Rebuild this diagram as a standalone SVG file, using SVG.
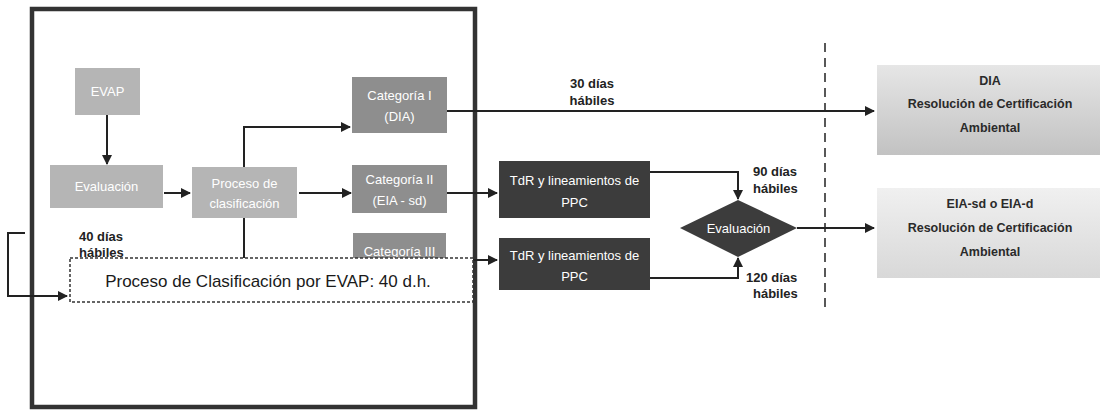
<svg xmlns="http://www.w3.org/2000/svg" width="1102" height="412" viewBox="0 0 1102 412">
<style>
.lt{fill:#b5b5b5}
.md{fill:#8e8e8e}
.dk{fill:#3c3c3c}
.wt{font-family:"Liberation Sans",Arial,sans-serif;font-size:13px;fill:#ffffff;text-anchor:middle}
.bt{font-family:"Liberation Sans",Arial,sans-serif;font-size:12.5px;font-weight:bold;fill:#2a2a2a;text-anchor:middle}
.lb{font-family:"Liberation Sans",Arial,sans-serif;font-size:13px;font-weight:bold;fill:#222222}
.ln{fill:none;stroke:#222222;stroke-width:2}
</style>
<defs>
<marker id="ah" viewBox="0 0 10 10" refX="9" refY="5" markerWidth="5" markerHeight="5" orient="auto" markerUnits="strokeWidth">
<path d="M0,0 L10,5 L0,10 z" fill="#222222"/>
</marker>
<linearGradient id="g1" x1="0" y1="0" x2="0" y2="1">
<stop offset="0" stop-color="#e6e6e6"/>
<stop offset="1" stop-color="#c2c2c2"/>
</linearGradient>
<linearGradient id="g2" x1="0" y1="0" x2="0" y2="1">
<stop offset="0" stop-color="#f0f0f0"/>
<stop offset="1" stop-color="#d8d8d8"/>
</linearGradient>
</defs>
<rect width="1102" height="412" fill="#ffffff"/>
<rect id="frame" x="32" y="9" width="443" height="398" fill="none" stroke="#333333" stroke-width="4.5"/>
<line id="divider" x1="825" y1="43" x2="825" y2="307" stroke="#222222" stroke-width="1.5" stroke-dasharray="9,6"/>
<g id="connectors">
<line class="ln" x1="107" y1="115" x2="107" y2="164" marker-end="url(#ah)"/>
<line class="ln" x1="164" y1="193" x2="190" y2="193" marker-end="url(#ah)"/>
<polyline class="ln" points="244,167 244,127 350,127" marker-end="url(#ah)"/>
<line class="ln" x1="299" y1="193" x2="351" y2="193" marker-end="url(#ah)"/>
<line class="ln" x1="244" y1="218" x2="244" y2="258"/>
<line class="ln" x1="447" y1="111" x2="874" y2="111" marker-end="url(#ah)"/>
<line class="ln" x1="447" y1="193" x2="497" y2="193" marker-end="url(#ah)"/>
<line class="ln" x1="447" y1="260" x2="497" y2="260" marker-end="url(#ah)"/>
<polyline class="ln" points="650,172 738,172 738,199" marker-end="url(#ah)"/>
<polyline class="ln" points="650,278 738,278 738,258" marker-end="url(#ah)"/>
<line class="ln" x1="797" y1="228" x2="874" y2="228" marker-end="url(#ah)"/>
<polyline class="ln" points="25,233 8,233 8,296 67,296" marker-end="url(#ah)"/>
</g>
<g id="evap"><rect class="lt" x="75" y="68" width="65" height="47"/><text class="wt" x="107.5" y="96">EVAP</text></g>
<g id="evaluacion1"><rect class="lt" x="50" y="165" width="113" height="43"/><text class="wt" x="106.5" y="191">Evaluación</text></g>
<g id="proceso"><rect class="lt" x="192" y="167" width="105" height="51"/><text class="wt" x="244.5" y="188">Proceso de</text><text class="wt" x="244.5" y="208">clasificación</text></g>
<g id="cat1"><rect class="md" x="352" y="77" width="95" height="56"/><text class="wt" x="399.5" y="100">Categoría I</text><text class="wt" x="399.5" y="121">(DIA)</text></g>
<g id="cat2"><rect class="md" x="352" y="165" width="95" height="48"/><text class="wt" x="399.5" y="184">Categoría II</text><text class="wt" x="399.5" y="205">(EIA - sd)</text></g>
<g id="cat3"><rect class="md" x="353" y="233" width="93" height="40"/><text class="wt" x="399.5" y="256">Categoría III</text></g>
<g id="clasif-evap"><rect x="70" y="258" width="403" height="44" fill="#ffffff" stroke="#333333" stroke-width="1.5" stroke-dasharray="3,2"/><text x="268" y="287" font-family="Liberation Sans,Arial,sans-serif" font-size="17" fill="#1a1a1a" text-anchor="middle">Proceso de Clasificación por EVAP: 40 d.h.</text></g>
<g id="lbl40"><text class="lb" x="79" y="241">40 días</text><text class="lb" x="79" y="257">hábiles</text></g>
<g id="lbl30"><text class="lb" x="592" y="88" text-anchor="middle">30 días</text><text class="lb" x="592" y="105" text-anchor="middle">hábiles</text></g>
<g id="tdr1"><rect class="dk" x="499" y="161" width="151" height="57"/><text class="wt" x="574.5" y="185">TdR y lineamientos de</text><text class="wt" x="574.5" y="207">PPC</text></g>
<g id="tdr2"><rect class="dk" x="499" y="238" width="151" height="52"/><text class="wt" x="574.5" y="260">TdR y lineamientos de</text><text class="wt" x="574.5" y="281">PPC</text></g>
<g id="evaluacion2"><polygon class="dk" points="680,228 738,200 797,228 738,257"/><text class="wt" x="738.5" y="233" font-size="14">Evaluación</text></g>
<g id="lbl90"><text class="lb" x="753" y="176">90 días</text><text class="lb" x="753" y="193">hábiles</text></g>
<g id="lbl120"><text class="lb" x="746" y="282">120 días</text><text class="lb" x="753" y="298">hábiles</text></g>
<g id="dia"><rect x="877" y="65" width="223" height="90" fill="url(#g1)"/><text class="bt" x="990" y="85">DIA</text><text class="bt" x="990" y="108">Resolución de Certificación</text><text class="bt" x="990" y="132">Ambiental</text></g>
<g id="eia"><rect x="877" y="188" width="223" height="90" fill="url(#g2)"/><text class="bt" x="990" y="208">EIA-sd o EIA-d</text><text class="bt" x="990" y="232">Resolución de Certificación</text><text class="bt" x="990" y="256">Ambiental</text></g>
</svg>
